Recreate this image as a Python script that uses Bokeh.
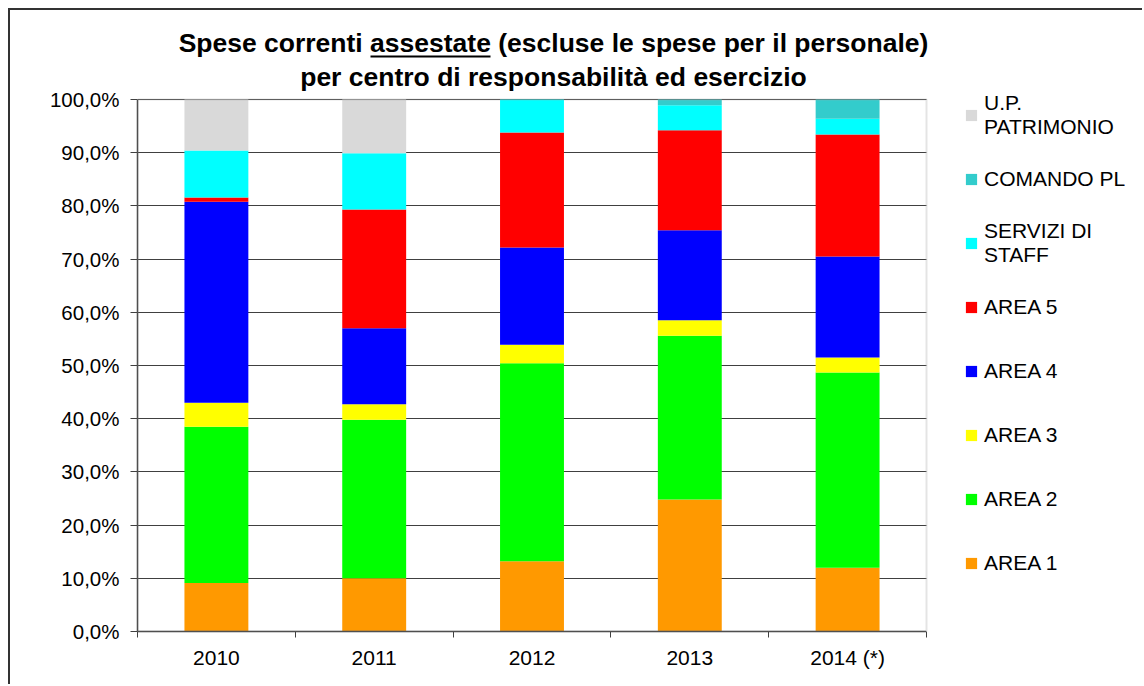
from bokeh.plotting import figure
from bokeh.models import (ColumnDataSource, Range1d, FixedTicker, Legend, LegendItem,
                          BoxAnnotation, Label)
from bokeh.embed import file_html
from bokeh.resources import INLINE

# ---------------- data ----------------
years = ["2010", "2011", "2012", "2013", "2014 (*)"]
series = ["AREA 1", "AREA 2", "AREA 3", "AREA 4", "AREA 5",
          "SERVIZI DI STAFF", "COMANDO PL", "U.P. PATRIMONIO"]
legend_labels = ["AREA 1", "AREA 2", "AREA 3", "AREA 4", "AREA 5",
                 "SERVIZI DI\nSTAFF", "COMANDO PL", "U.P.\nPATRIMONIO"]
colors = ["#ff9900", "#00ff00", "#ffff00", "#0000ff", "#ff0000",
          "#00ffff", "#33cccc", "#d9d9d9"]

area1 = [9.1, 10.0, 13.2, 24.8, 12.0]
area2 = [29.4, 29.8, 37.2, 30.8, 36.7]
area3 = [4.5, 2.9, 3.5, 2.9, 2.8]
area4 = [37.8, 14.3, 18.3, 16.9, 19.0]
area5 = [0.8, 22.3, 21.6, 18.8, 22.9]
staff = [8.8, 10.6, 6.2, 4.7, 3.0]
comando = [0.0, 0.0, 0.0, 1.1, 3.6]
patrimonio = [9.6, 10.1, 0.0, 0.0, 0.0]

y_ticks = [0, 10, 20, 30, 40, 50, 60, 70, 80, 90, 100]
y_tick_labels = ["0,0%", "10,0%", "20,0%", "30,0%", "40,0%", "50,0%",
                 "60,0%", "70,0%", "80,0%", "90,0%", "100,0%"]

title_line1 = "Spese correnti assestate (escluse le spese per il personale)"
title_line2 = "per centro di responsabilità ed esercizio"

# ---------------- layout constants (pixels) ----------------
W, H = 1134, 676
LEFT, BOTTOM = 127, 55
FRAME_W, FRAME_H = W - LEFT, H - BOTTOM
PX_X = 157.8      # pixels per category
PX_Y = 5.32       # pixels per percent
X_END = FRAME_W / PX_X
Y_END = FRAME_H / PX_Y
ORIGIN_X, ORIGIN_Y = 137, 631   # page position of the data origin


def dx(px):
    return (px - ORIGIN_X) / PX_X


def dy(py):
    return (ORIGIN_Y - py) / PX_Y


FONT = "Liberation Sans"

n = len(years)
xs = [i + 0.5 for i in range(n)]
data = {"x": xs}
for name, vals in zip(series, [area1, area2, area3, area4, area5, staff, comando, patrimonio]):
    data[name] = vals
source = ColumnDataSource(data)

p = figure(width=W, height=H, x_range=Range1d(0, X_END), y_range=Range1d(0, Y_END),
           output_backend="svg", toolbar_location=None, title=None,
           min_border_left=LEFT, min_border_right=0, min_border_top=0,
           min_border_bottom=BOTTOM)
p.outline_line_color = None
p.background_fill_color = "white"
p.border_fill_color = "white"
p.styles = {"margin-left": "8px", "margin-top": "8px",
            "border-left": "2px solid #333333", "border-top": "2px solid #333333"}

# grid
p.xgrid.visible = False
p.ygrid.grid_line_color = "#404040"
p.ygrid.grid_line_width = 1

# bars
renderers = p.vbar_stack(series, x="x", width=0.405, source=source,
                         fill_color=colors, line_color=None)

# cover grid beyond the plot area (legend zone)
p.add_layout(BoxAnnotation(left=n, bottom=-2, top=101, fill_color="white",
                           fill_alpha=1, line_color=None))
# plot area border (gray top/right)
p.add_layout(BoxAnnotation(left=0, right=n, bottom=0, top=100, fill_alpha=0,
                           line_color="#a6a6a6", line_width=2))

# axes
xa = p.xaxis[0]
xa.ticker = FixedTicker(ticks=xs, minor_ticks=list(range(n + 1)))
xa.major_label_overrides = {x: lab for x, lab in zip(xs, years)}
xa.bounds = (0, n)
xa.axis_line_color = "#404040"
xa.axis_line_width = 1.5
xa.major_tick_line_color = None
xa.major_tick_out = 6
xa.major_tick_in = 0
xa.minor_tick_line_color = "#404040"
xa.minor_tick_out = 6
xa.minor_tick_in = 0
xa.major_label_standoff = 8
xa.major_label_text_font = FONT
xa.major_label_text_font_size = "21px"
xa.major_label_text_color = "black"

ya = p.yaxis[0]
ya.ticker = FixedTicker(ticks=y_ticks)
ya.major_label_overrides = dict(zip(y_ticks, y_tick_labels))
ya.bounds = (0, 100)
ya.axis_line_color = "#404040"
ya.axis_line_width = 1.5
ya.major_tick_line_color = "#404040"
ya.major_tick_out = 7
ya.major_tick_in = 0
ya.minor_tick_line_color = None
ya.major_label_standoff = 11
ya.major_label_text_font = FONT
ya.major_label_text_font_size = "20.5px"
ya.major_label_text_color = "black"

# title (two centred lines, "assestate" underlined)
TITLE_CX = dx(553)
TITLE_SIZE = "26.5px"
p.add_layout(Label(x=TITLE_CX, y=dy(42), text=title_line1,
                   text_align="center", text_baseline="alphabetic",
                   text_font=FONT, text_font_style="bold", text_font_size=TITLE_SIZE,
                   text_color="black"))
p.add_layout(Label(x=TITLE_CX, y=dy(76), text=title_line2,
                   text_align="center", text_baseline="alphabetic",
                   text_font=FONT, text_font_style="bold", text_font_size=TITLE_SIZE,
                   text_color="black"))
p.add_layout(BoxAnnotation(left=dx(370), right=dx(490),
                           bottom=dy(57), top=dy(55),
                           fill_color="black", fill_alpha=1, line_color=None))

# legend
items = [LegendItem(label=lab, renderers=[r])
         for lab, r in reversed(list(zip(legend_labels, renderers)))]
legend = Legend(items=items, location=(827, 43), orientation="vertical",
                glyph_width=14, glyph_height=14, label_height=50, spacing=14,
                padding=0, margin=0, label_standoff=6,
                border_line_color=None, background_fill_alpha=0,
                label_text_font=FONT, label_text_font_size="21px",
                label_text_color="black")
p.add_layout(legend)

open("out.html", "w").write(file_html(p, INLINE))
